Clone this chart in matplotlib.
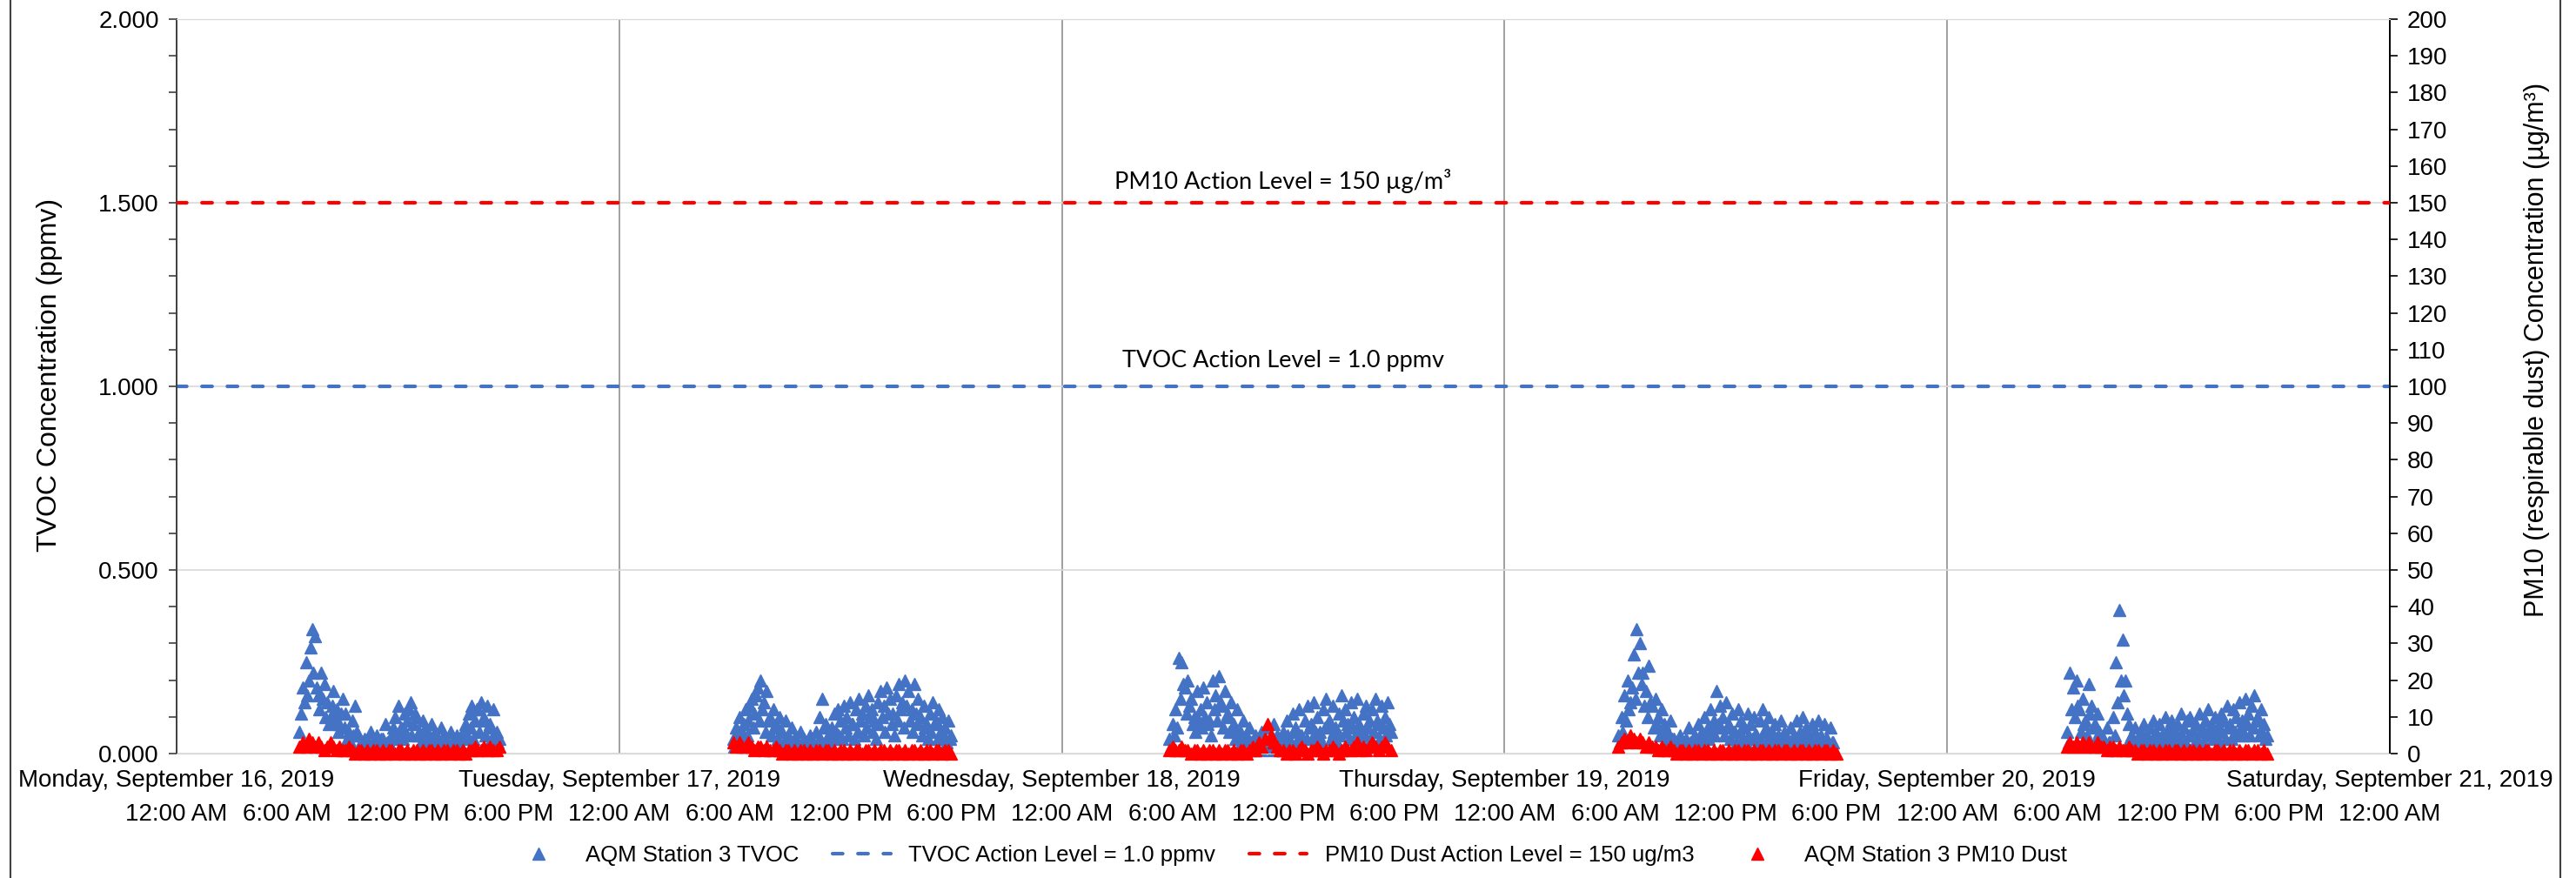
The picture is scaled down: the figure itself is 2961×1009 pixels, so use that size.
import pandas as pd
import matplotlib.pyplot as plt
import matplotlib.dates as mdates
from matplotlib.lines import Line2D
from matplotlib.ticker import MultipleLocator, FormatStrFormatter, FuncFormatter

plt.rcParams['font.family'] = ['Liberation Sans', 'DejaVu Sans']

# Datos (TVOC cada 5 min, PM10 cada 10 min, horario de obra)
days = ["2019-09-16", "2019-09-17", "2019-09-18", "2019-09-19", "2019-09-20"]

tvoc_start = ["06:40", "06:10", "05:50", "06:10", "06:30"]
tvoc_mon = [0.06, 0.11, 0.18, 0.14, 0.25, 0.16, 0.20, 0.29, 0.34, 0.22, 0.32, 0.18, 0.16, 0.12,
            0.22, 0.15, 0.19, 0.10, 0.14, 0.08, 0.10, 0.13, 0.17, 0.09, 0.12, 0.06, 0.08, 0.11,
            0.15, 0.07, 0.11, 0.04, 0.06, 0.03, 0.09, 0.05, 0.13, 0.06, 0.05, 0.02, 0.03, 0.01,
            0.04, 0.02, 0.02, 0.03, 0.06, 0.02, 0.03, 0.01, 0.05, 0.02, 0.02, 0.04, 0.04, 0.02,
            0.08, 0.03, 0.03, 0.02, 0.05, 0.07, 0.10, 0.04, 0.13, 0.06, 0.07, 0.04, 0.11, 0.06,
            0.09, 0.12, 0.14, 0.05, 0.08, 0.11, 0.10, 0.05, 0.06, 0.03, 0.09, 0.04, 0.07, 0.03,
            0.05, 0.02, 0.08, 0.04, 0.06, 0.03, 0.04, 0.02, 0.07, 0.03, 0.05, 0.02, 0.03, 0.01,
            0.06, 0.02, 0.04, 0.02, 0.05, 0.03, 0.03, 0.02, 0.06, 0.04, 0.08, 0.05, 0.11, 0.07,
            0.13, 0.04, 0.09, 0.12, 0.12, 0.06, 0.14, 0.09, 0.10, 0.05, 0.13, 0.07, 0.08, 0.04,
            0.12, 0.05, 0.06, 0.03, 0.04]
tvoc_tue = [0.04, 0.02, 0.07, 0.05, 0.10, 0.04, 0.06, 0.08, 0.12, 0.05, 0.09, 0.13, 0.15, 0.07,
            0.11, 0.16, 0.18, 0.09, 0.20, 0.12, 0.14, 0.06, 0.17, 0.09, 0.10, 0.05, 0.12, 0.07,
            0.08, 0.04, 0.10, 0.06, 0.06, 0.03, 0.09, 0.04, 0.05, 0.02, 0.07, 0.03, 0.04, 0.02,
            0.03, 0.01, 0.06, 0.02, 0.04, 0.02, 0.02, 0.01, 0.05, 0.02, 0.03, 0.01, 0.06, 0.03,
            0.10, 0.04, 0.15, 0.07, 0.08, 0.03, 0.05, 0.02, 0.07, 0.04, 0.11, 0.06, 0.12, 0.05,
            0.09, 0.04, 0.13, 0.07, 0.10, 0.05, 0.14, 0.08, 0.08, 0.04, 0.12, 0.06, 0.15, 0.09,
            0.11, 0.05, 0.13, 0.07, 0.16, 0.10, 0.12, 0.06, 0.09, 0.04, 0.14, 0.08, 0.17, 0.10,
            0.13, 0.06, 0.18, 0.11, 0.15, 0.08, 0.11, 0.05, 0.16, 0.09, 0.19, 0.12, 0.14, 0.07,
            0.20, 0.13, 0.17, 0.09, 0.12, 0.06, 0.19, 0.11, 0.15, 0.08, 0.10, 0.05, 0.13, 0.07,
            0.08, 0.04, 0.11, 0.06, 0.14, 0.08, 0.09, 0.04, 0.12, 0.06, 0.10, 0.05, 0.07, 0.03,
            0.09, 0.04, 0.05]
tvoc_wed = [0.04, 0.02, 0.08, 0.05, 0.12, 0.07, 0.26, 0.15, 0.25, 0.19, 0.18, 0.11, 0.20, 0.13,
            0.15, 0.08, 0.10, 0.06, 0.17, 0.09, 0.12, 0.07, 0.18, 0.10, 0.14, 0.08, 0.09, 0.05,
            0.20, 0.12, 0.16, 0.09, 0.21, 0.14, 0.13, 0.07, 0.17, 0.10, 0.11, 0.06, 0.14, 0.07,
            0.08, 0.04, 0.12, 0.05, 0.06, 0.03, 0.09, 0.04, 0.05, 0.02, 0.07, 0.03, 0.03, 0.01,
            0.05, 0.02, 0.02, 0.01, 0.06, 0.03, 0.04, 0.02, 0.07, 0.03, 0.03, 0.01, 0.08, 0.04,
            0.05, 0.02, 0.02, 0.01, 0.06, 0.03, 0.09, 0.05, 0.04, 0.02, 0.11, 0.06, 0.07, 0.03,
            0.12, 0.05, 0.05, 0.02, 0.09, 0.04, 0.13, 0.07, 0.08, 0.04, 0.14, 0.06, 0.10, 0.05,
            0.06, 0.03, 0.12, 0.07, 0.15, 0.08, 0.09, 0.04, 0.13, 0.06, 0.07, 0.03, 0.11, 0.05,
            0.16, 0.09, 0.12, 0.06, 0.08, 0.04, 0.14, 0.07, 0.10, 0.05, 0.15, 0.08, 0.06, 0.03,
            0.11, 0.05, 0.13, 0.07, 0.09, 0.04, 0.12, 0.06, 0.15, 0.09, 0.08, 0.04, 0.13, 0.07,
            0.10, 0.05, 0.14, 0.08, 0.06]
tvoc_thu = [0.05, 0.03, 0.10, 0.06, 0.16, 0.09, 0.20, 0.12, 0.14, 0.18, 0.27, 0.15, 0.34, 0.22,
            0.30, 0.19, 0.22, 0.13, 0.17, 0.10, 0.24, 0.14, 0.13, 0.07, 0.15, 0.08, 0.10, 0.05,
            0.12, 0.06, 0.08, 0.04, 0.06, 0.03, 0.09, 0.04, 0.04, 0.02, 0.03, 0.01, 0.05, 0.02,
            0.02, 0.01, 0.04, 0.02, 0.07, 0.03, 0.03, 0.02, 0.05, 0.03, 0.08, 0.04, 0.06, 0.03,
            0.10, 0.05, 0.07, 0.04, 0.12, 0.06, 0.09, 0.05, 0.17, 0.08, 0.13, 0.07, 0.10, 0.05,
            0.14, 0.07, 0.08, 0.04, 0.11, 0.06, 0.06, 0.03, 0.12, 0.06, 0.09, 0.04, 0.07, 0.03,
            0.11, 0.05, 0.08, 0.04, 0.10, 0.05, 0.05, 0.02, 0.09, 0.04, 0.12, 0.06, 0.07, 0.03,
            0.10, 0.05, 0.06, 0.03, 0.08, 0.04, 0.05, 0.02, 0.09, 0.04, 0.06, 0.03, 0.04, 0.02,
            0.07, 0.03, 0.05, 0.02, 0.09, 0.04, 0.06, 0.03, 0.10, 0.05, 0.07, 0.03, 0.04, 0.02,
            0.08, 0.04, 0.06, 0.03, 0.09, 0.04, 0.05, 0.02, 0.08, 0.04, 0.04, 0.02, 0.07, 0.03,
            0.03]
tvoc_fri = [0.06, 0.03, 0.22, 0.12, 0.18, 0.10, 0.20, 0.13, 0.12, 0.06, 0.15, 0.08, 0.09, 0.05,
            0.19, 0.11, 0.13, 0.07, 0.08, 0.04, 0.11, 0.06, 0.05, 0.02, 0.04, 0.02, 0.07, 0.03,
            0.03, 0.01, 0.10, 0.05, 0.25, 0.14, 0.39, 0.20, 0.31, 0.16, 0.20, 0.11, 0.08, 0.04,
            0.05, 0.02, 0.07, 0.03, 0.04, 0.02, 0.06, 0.03, 0.08, 0.04, 0.05, 0.02, 0.07, 0.03,
            0.09, 0.04, 0.06, 0.03, 0.08, 0.04, 0.05, 0.02, 0.10, 0.05, 0.07, 0.03, 0.09, 0.04,
            0.06, 0.03, 0.08, 0.04, 0.11, 0.05, 0.07, 0.03, 0.09, 0.05, 0.10, 0.05, 0.06, 0.03,
            0.08, 0.04, 0.11, 0.06, 0.07, 0.03, 0.09, 0.05, 0.12, 0.06, 0.08, 0.04, 0.10, 0.05,
            0.07, 0.03, 0.11, 0.06, 0.09, 0.04, 0.13, 0.07, 0.08, 0.04, 0.12, 0.06, 0.10, 0.05,
            0.14, 0.07, 0.09, 0.05, 0.15, 0.08, 0.11, 0.05, 0.13, 0.07, 0.16, 0.09, 0.10, 0.05,
            0.12, 0.06, 0.08, 0.04, 0.05]

pm10_start = ["06:40", "06:10", "05:50", "06:10", "06:30"]
pm10_mon = [2, 3, 2, 4, 3, 2, 3, 2, 1, 2, 3, 2, 1, 2, 1, 1, 2, 1, 0, 1,
            1, 0, 1, 0, 1, 1, 0, 1, 0, 1, 1, 0, 1, 1, 0, 1, 0, 1, 1, 0,
            1, 0, 1, 1, 0, 1, 0, 1, 1, 0, 1, 1, 0, 1, 0, 1, 1, 2, 1, 1,
            2, 1, 2, 1, 1, 2]
pm10_tue = [3, 2, 3, 2, 2, 3, 2, 1, 2, 2, 1, 2, 1, 1, 2, 1, 0, 1, 1, 0,
            1, 0, 1, 1, 0, 1, 0, 1, 1, 0, 1, 1, 0, 1, 0, 1, 1, 0, 1, 0,
            1, 1, 0, 1, 1, 0, 1, 0, 1, 1, 0, 1, 0, 1, 1, 0, 1, 0, 1, 1,
            0, 1, 0, 1, 1, 0, 1, 1, 0, 1, 1, 0]
pm10_wed = [1, 2, 1, 1, 2, 1, 1, 0, 1, 1, 0, 1, 0, 1, 1, 0, 1, 0, 1, 1,
            0, 1, 0, 1, 1, 0, 1, 2, 1, 3, 2, 4, 8, 5, 3, 2, 1, 1, 0, 1,
            1, 0, 1, 2, 1, 0, 1, 1, 2, 1, 0, 1, 1, 2, 1, 0, 1, 2, 1, 1,
            2, 3, 1, 2, 1, 2, 3, 2, 1, 2, 3, 2, 1]
pm10_thu = [2, 3, 4, 3, 5, 4, 3, 4, 3, 2, 3, 2, 2, 1, 2, 1, 1, 2, 1, 0,
            1, 1, 0, 1, 0, 1, 1, 0, 1, 1, 0, 1, 0, 1, 1, 0, 1, 0, 1, 1,
            0, 1, 1, 0, 1, 0, 1, 1, 0, 1, 0, 1, 1, 0, 1, 1, 0, 1, 0, 1,
            1, 0, 1, 0, 1, 1, 0, 1, 1, 0, 1, 0]
pm10_fri = [2, 3, 2, 3, 2, 3, 2, 3, 2, 2, 3, 2, 2, 1, 2, 2, 1, 2, 1, 1,
            2, 1, 1, 0, 1, 1, 0, 1, 1, 0, 1, 0, 1, 1, 0, 1, 1, 0, 1, 0,
            1, 1, 0, 1, 0, 1, 1, 0, 1, 1, 0, 1, 0, 1, 1, 0, 1, 0, 1, 1,
            0, 1, 1, 0, 1, 0]

tvoc_action = 1.0
pm10_action = 150

BLUE = "#4472C4"
RED = "#FF0000"


def build_series(starts, lists, freq):
    parts = []
    for day, st, vals in zip(days, starts, lists):
        t = pd.date_range(f"{day} {st}", periods=len(vals), freq=freq)
        parts.append(pd.Series(vals, index=t))
    return pd.concat(parts)


tvoc = build_series(tvoc_start, [tvoc_mon, tvoc_tue, tvoc_wed, tvoc_thu, tvoc_fri], "5min")
pm10 = build_series(pm10_start, [pm10_mon, pm10_tue, pm10_wed, pm10_thu, pm10_fri], "10min")

fig = plt.figure(figsize=(29.61, 10.09), dpi=100)
ax = fig.add_axes([0.0686, 0.1417, 0.8591, 0.8365])
ax2 = ax.twinx()

x0 = pd.Timestamp("2019-09-16 00:00")
x1 = pd.Timestamp("2019-09-21 00:00")

# Lineas de nivel de accion
ax.axhline(tvoc_action, color=BLUE, lw=3, ls=(0, (2.8, 4.2)), dash_capstyle="round", zorder=3)
ax2.axhline(pm10_action, color=RED, lw=3, ls=(0, (2.8, 4.2)), dash_capstyle="round", zorder=3)

ax.plot(tvoc.index, tvoc.values, ls="none", marker="^", ms=9.5, color=BLUE,
        clip_on=False, zorder=4)
ax2.plot(pm10.index, pm10.values, ls="none", marker="^", ms=9.5, color=RED,
         clip_on=False, zorder=4)

ax.set_xlim(x0, x1)
ax.set_ylim(0, 2.0)
ax2.set_ylim(0, 200)

# Eje izquierdo
ax.yaxis.set_major_locator(MultipleLocator(0.5))
ax.yaxis.set_minor_locator(MultipleLocator(0.1))
ax.yaxis.set_major_formatter(FormatStrFormatter("%.3f"))
ax.tick_params(axis="y", which="both", direction="out", length=6.5, width=1.2,
               color="#404040", labelsize=20, pad=8)
ax.set_ylabel("TVOC Concentration (ppmv)", fontsize=23)
ax.yaxis.set_label_coords(-0.0515, 0.515)

# Eje derecho
ax2.yaxis.set_major_locator(MultipleLocator(10))
ax2.tick_params(axis="y", which="both", direction="out", length=6.5, width=1.2,
                color="black", labelsize=20, pad=8)
ax2.set_ylabel("PM10 (respirable dust) Concentration (\u00b5g/m\u00b3)", fontsize=22, rotation=90)
ax2.yaxis.set_label_coords(1.0606, 0.55)


# Eje X: horas (fila inferior) y fechas (fila superior)
def time_label(x, pos):
    dt = mdates.num2date(x)
    h = dt.hour % 12 or 12
    return f"{h}:{dt.minute:02d} {'AM' if dt.hour < 12 else 'PM'}"


ax.xaxis.set_major_locator(mdates.HourLocator(byhour=[0, 6, 12, 18]))
ax.xaxis.set_major_formatter(FuncFormatter(time_label))
ax.xaxis.set_minor_locator(mdates.DayLocator())
ax.xaxis.set_minor_formatter(mdates.DateFormatter("%A, %B %d, %Y"))
ax.xaxis.remove_overlapping_locs = False
ax.tick_params(axis="x", which="major", length=0, labelsize=20, pad=41)
ax.tick_params(axis="x", which="minor", length=0, labelsize=20, pad=13)

# Rejilla
ax.grid(which="major", axis="y", color="#d9d9d9", lw=1.2)
ax.grid(which="minor", axis="x", color="#a0a0a0", lw=1.4)
ax.set_axisbelow(True)

for a in (ax, ax2):
    a.spines["top"].set_color("#d9d9d9")
    a.spines["bottom"].set_color("#d9d9d9")
    a.spines["left"].set_color("#404040")
    a.spines["right"].set_color("black")
    a.spines["left"].set_linewidth(1.2)
    a.spines["right"].set_linewidth(1.2)

# Etiquetas de los niveles
xm = x0 + (x1 - x0) / 2
ax.text(xm, 1.56, "PM10 Action Level = 150 \u00b5g/m\u00b3", ha="center", va="center",
        fontsize=19.5, family=["Lato", "DejaVu Sans"])
ax.text(xm, 1.07, "TVOC Action Level = 1.0 ppmv", ha="center", va="center",
        fontsize=19.5, family=["Lato", "DejaVu Sans"])

handles = [
    Line2D([], [], ls="none", marker="^", ms=9.5, color=BLUE),
    Line2D([], [], color=BLUE, lw=3, ls=(0, (2.8, 4.2)), dash_capstyle="round"),
    Line2D([], [], color=RED, lw=3, ls=(0, (2.8, 4.2)), dash_capstyle="round"),
    Line2D([], [], ls="none", marker="^", ms=9.5, color=RED),
]
labels = ["AQM Station 3 TVOC", "TVOC Action Level = 1.0 ppmv",
          "PM10 Dust Action Level = 150 ug/m3", "AQM Station 3 PM10 Dust"]
fig.legend(handles, labels, loc="center", bbox_to_anchor=(0.5, 0.026), ncol=4,
           frameon=False, fontsize=18.5, handlelength=2.6, columnspacing=1.5,
           numpoints=1)

# Marco del area del grafico
for xf in (12 / 2961, 2943 / 2961):
    fig.add_artist(Line2D([xf, xf], [0, 1], transform=fig.transFigure,
                          color="#404040", lw=1.5))

fig.savefig("out.png", dpi=100)
